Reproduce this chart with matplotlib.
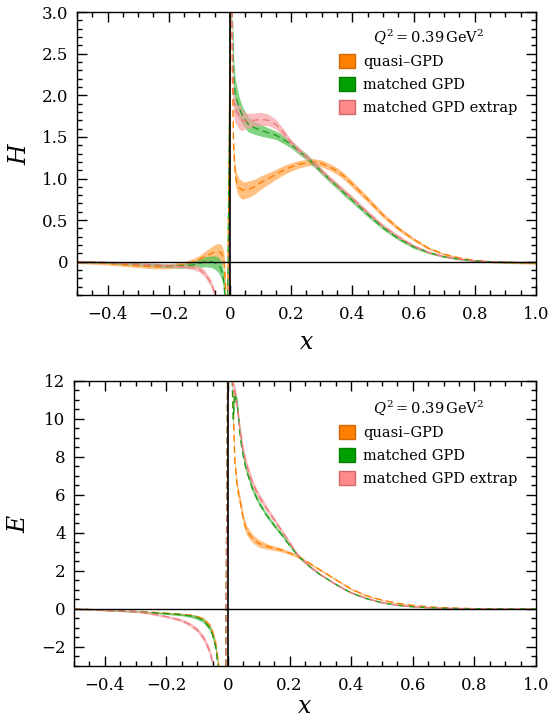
import numpy as np
import matplotlib
matplotlib.use("Agg")
import matplotlib.pyplot as plt
from matplotlib.patches import Patch
from matplotlib.ticker import MultipleLocator, FuncFormatter

plt.rcParams['font.family'] = ['DejaVu Serif']
plt.rcParams['mathtext.fontset'] = 'dejavuserif'

# --- data ---
x_grid = [-0.5, -0.45, -0.4, -0.35, -0.3, -0.25, -0.2, -0.15, -0.12, -0.1,
          -0.08, -0.06, -0.05, -0.04, -0.03, -0.025, -0.02, -0.015, -0.01,
          0.004, 0.008, 0.012, 0.017, 0.022, 0.03, 0.04, 0.05, 0.06, 0.08, 0.1,
          0.125, 0.15, 0.175, 0.2, 0.225, 0.25, 0.275, 0.3, 0.325, 0.35, 0.375, 0.4,
          0.45, 0.5, 0.55, 0.6, 0.65, 0.7, 0.75, 0.8, 0.85, 0.9, 0.95, 1.0]

# H : quasi-GPD
H_quasi = [0.0, -0.01, -0.02, -0.035, -0.05, -0.06, -0.055, -0.035, 0.0, 0.03,
           0.07, 0.1, 0.115, 0.12, 0.11, 0.08, 0.02, -0.25, -1.5,
           4.0, 2.2, 1.35, 1.05, 0.95, 0.89, 0.86, 0.86, 0.87, 0.9, 0.95,
           1.0, 1.05, 1.1, 1.14, 1.17, 1.19, 1.2, 1.18, 1.14, 1.09, 1.02, 0.93,
           0.75, 0.56, 0.40, 0.27, 0.16, 0.09, 0.045, 0.015, 0.0, -0.01, -0.015, -0.02]
H_quasi_err = [0.02, 0.02, 0.02, 0.02, 0.02, 0.025, 0.03, 0.035, 0.04, 0.045,
               0.06, 0.08, 0.09, 0.1, 0.1, 0.1, 0.1, 0.1, 0.1,
               0.05, 0.08, 0.1, 0.11, 0.11, 0.11, 0.11, 0.1, 0.1, 0.09, 0.08,
               0.07, 0.06, 0.055, 0.05, 0.045, 0.04, 0.04, 0.04, 0.04, 0.04, 0.04, 0.04,
               0.035, 0.03, 0.025, 0.02, 0.015, 0.01, 0.01, 0.01, 0.01, 0.01, 0.01, 0.01]
# H : matched GPD
H_match = [0.0, -0.005, -0.01, -0.02, -0.03, -0.04, -0.05, -0.05, -0.04, -0.02,
           0.0, 0.0, -0.01, -0.03, -0.08, -0.14, -0.25, -0.5, -1.5,
           4.0, 2.8, 2.25, 2.0, 1.95, 1.85, 1.76, 1.7, 1.65, 1.61, 1.58,
           1.55, 1.52, 1.47, 1.41, 1.33, 1.26, 1.17, 1.08, 0.99, 0.91, 0.82, 0.74,
           0.57, 0.41, 0.28, 0.18, 0.11, 0.06, 0.03, 0.01, 0.0, -0.005, -0.01, -0.01]
H_match_err = [0.01, 0.01, 0.01, 0.015, 0.015, 0.02, 0.02, 0.03, 0.04, 0.05,
               0.06, 0.07, 0.08, 0.09, 0.1, 0.1, 0.1, 0.1, 0.1,
               0.1, 0.15, 0.2, 0.2, 0.16, 0.13, 0.11, 0.1, 0.09, 0.08, 0.07,
               0.06, 0.05, 0.05, 0.045, 0.04, 0.04, 0.035, 0.035, 0.035, 0.035, 0.035, 0.035,
               0.03, 0.025, 0.02, 0.02, 0.015, 0.01, 0.01, 0.01, 0.01, 0.01, 0.01, 0.01]
# H : matched GPD extrap
H_extrap = [0.0, -0.005, -0.01, -0.02, -0.03, -0.04, -0.05, -0.06, -0.07, -0.09,
            -0.15, -0.27, -0.38, -0.52, -0.9, -1.3, -2.0, -3.0, -5.0,
            4.0, 2.6, 1.95, 1.83, 1.8, 1.74, 1.7, 1.69, 1.69, 1.7, 1.71,
            1.7, 1.65, 1.55, 1.43, 1.34, 1.26, 1.18, 1.09, 1.0, 0.92, 0.84, 0.76,
            0.59, 0.43, 0.30, 0.19, 0.11, 0.06, 0.03, 0.01, 0.0, -0.005, -0.01, -0.01]
H_extrap_err = [0.01, 0.01, 0.01, 0.015, 0.015, 0.02, 0.02, 0.025, 0.03, 0.035,
                0.04, 0.045, 0.05, 0.05, 0.05, 0.05, 0.05, 0.05, 0.05,
                0.1, 0.15, 0.15, 0.15, 0.15, 0.15, 0.13, 0.1, 0.09, 0.08, 0.08,
                0.07, 0.06, 0.05, 0.04, 0.035, 0.03, 0.03, 0.03, 0.03, 0.03, 0.03, 0.03,
                0.025, 0.02, 0.02, 0.015, 0.01, 0.01, 0.01, 0.01, 0.01, 0.01, 0.01, 0.01]

# E : quasi-GPD
E_quasi = [0.0, -0.03, -0.07, -0.1, -0.13, -0.17, -0.22, -0.28, -0.33, -0.4,
           -0.52, -0.85, -1.2, -1.8, -3.0, -3.8, -5.0, -7.0, -10.0,
           25.0, 18.0, 15.0, 10.5, 7.8, 6.4, 5.6, 4.7, 4.15, 3.7, 3.45,
           3.3, 3.2, 3.1, 2.95, 2.78, 2.55, 2.3, 2.05, 1.8, 1.55, 1.3, 1.05,
           0.7, 0.47, 0.3, 0.19, 0.12, 0.07, 0.04, 0.02, 0.01, 0.005, 0.0, 0.0]
E_quasi_err = [0.02, 0.02, 0.03, 0.03, 0.03, 0.04, 0.04, 0.05, 0.05, 0.06,
               0.08, 0.1, 0.12, 0.15, 0.2, 0.2, 0.2, 0.2, 0.2,
               0.5, 0.5, 0.4, 0.35, 0.3, 0.3, 0.3, 0.28, 0.25, 0.22, 0.2,
               0.15, 0.12, 0.1, 0.08, 0.07, 0.06, 0.06, 0.05, 0.05, 0.05, 0.05, 0.05,
               0.04, 0.03, 0.03, 0.02, 0.02, 0.02, 0.02, 0.01, 0.01, 0.01, 0.01, 0.01]
# E : matched GPD
E_match = [0.0, -0.03, -0.07, -0.1, -0.14, -0.19, -0.24, -0.3, -0.37, -0.45,
           -0.6, -0.98, -1.35, -2.0, -3.3, -4.2, -5.5, -7.5, -10.0,
           25.0, 18.0, 13.0, 10.0, 11.3, 10.8, 9.0, 8.0, 7.3, 6.3, 5.6,
           4.95, 4.4, 3.9, 3.35, 2.84, 2.45, 2.1, 1.8, 1.55, 1.3, 1.07, 0.85,
           0.55, 0.33, 0.2, 0.12, 0.07, 0.04, 0.02, 0.01, 0.005, 0.0, 0.0, 0.0]
E_match_err = [0.02, 0.02, 0.02, 0.03, 0.03, 0.04, 0.05, 0.06, 0.08, 0.1,
               0.12, 0.15, 0.2, 0.2, 0.2, 0.2, 0.2, 0.2, 0.2,
               0.5, 0.5, 0.5, 0.4, 0.35, 0.3, 0.25, 0.2, 0.18, 0.15, 0.13,
               0.12, 0.1, 0.1, 0.08, 0.07, 0.06, 0.05, 0.05, 0.04, 0.04, 0.04, 0.04,
               0.03, 0.02, 0.02, 0.02, 0.01, 0.01, 0.01, 0.01, 0.01, 0.01, 0.01, 0.01]
# E : matched GPD extrap
E_extrap = [0.0, -0.03, -0.07, -0.1, -0.14, -0.25, -0.4, -0.6, -0.85, -1.1,
            -1.5, -2.2, -2.8, -3.6, -5.0, -6.0, -7.5, -9.0, -12.0,
            25.0, 18.0, 13.0, 11.5, 11.5, 10.6, 9.3, 8.3, 7.6, 6.6, 5.95,
            5.3, 4.7, 4.1, 3.5, 2.88, 2.47, 2.12, 1.82, 1.55, 1.3, 1.07, 0.86,
            0.56, 0.34, 0.2, 0.12, 0.07, 0.04, 0.02, 0.01, 0.005, 0.0, 0.0, 0.0]
E_extrap_err = [0.02, 0.02, 0.03, 0.03, 0.04, 0.05, 0.06, 0.08, 0.1, 0.12,
                0.15, 0.2, 0.2, 0.2, 0.2, 0.2, 0.2, 0.2, 0.2,
                0.5, 0.5, 0.5, 0.4, 0.35, 0.3, 0.3, 0.25, 0.22, 0.2, 0.18,
                0.15, 0.13, 0.11, 0.09, 0.07, 0.06, 0.05, 0.05, 0.04, 0.04, 0.04, 0.04,
                0.03, 0.02, 0.02, 0.02, 0.01, 0.01, 0.01, 0.01, 0.01, 0.01, 0.01, 0.01]

labels = ["quasi\u2013GPD", "matched GPD", "matched GPD extrap"]
line_cols = ["#ff8000", "#1fa01f", "#f07a80"]
band_cols = ["#ffa64d", "#4cc04c", "#f7a0a4"]
patch_cols = ["#ff8000", "#00a000", "#ff8a8a"]
edge_cols = ["#d06a00", "#008000", "#d06a6a"]


def fmt_dec(v, pos):
    if abs(v) < 1e-9:
        return "0"
    return f"{v:.1f}".replace("-", "\u2212")


def fmt_int(v, pos):
    if abs(v) < 1e-9:
        return "0"
    return f"{v:.0f}".replace("-", "\u2212")


def draw_panel(ax, series, errs, ylim, ymaj, ymin, yfmt, ylabel, leg_anchor, xpad):
    x = np.array(x_grid)
    for y, e, lc, bc in zip(series, errs, line_cols, band_cols):
        y = np.array(y)
        e = np.array(e)
        ax.fill_between(x, y - e, y + e, color=bc, alpha=0.7, lw=0)
        ax.plot(x, y, ls=(0, (5, 3)), color=lc, lw=1.0)
    ax.axhline(0, color="black", lw=1.0, zorder=5)
    ax.axvline(0, color="black", lw=1.2, zorder=5)
    ax.set_xlim(-0.5, 1.0)
    ax.set_ylim(*ylim)
    ax.xaxis.set_major_locator(MultipleLocator(0.2))
    ax.xaxis.set_minor_locator(MultipleLocator(0.05))
    ax.yaxis.set_major_locator(MultipleLocator(ymaj))
    ax.yaxis.set_minor_locator(MultipleLocator(ymin))
    ax.xaxis.set_major_formatter(FuncFormatter(fmt_dec))
    ax.yaxis.set_major_formatter(FuncFormatter(yfmt))
    ax.tick_params(which="both", direction="in", top=True, right=True,
                   labelsize=12, width=1.0)
    ax.tick_params(which="major", length=7)
    ax.tick_params(which="minor", length=3.5)
    ax.tick_params(axis="x", which="major", pad=8)
    ax.tick_params(axis="y", which="major", pad=6)
    for sp in ax.spines.values():
        sp.set_linewidth(1.0)
    ax.set_xlabel("$x$", fontsize=17, labelpad=xpad)
    ax.set_ylabel(ylabel, fontsize=17, labelpad=8)
    handles = [Patch(facecolor=pc, edgecolor=ec, lw=1.0) for pc, ec in zip(patch_cols, edge_cols)]
    ax.legend(handles, labels, loc="upper left", bbox_to_anchor=leg_anchor,
              frameon=False, fontsize=10.5, handlelength=1.1, handleheight=1.1,
              handletextpad=0.55, labelspacing=0.55, borderpad=0, borderaxespad=0,
              title=r"$Q^2 = 0.39\,\mathrm{GeV}^2$", title_fontsize=10.5)


fig = plt.figure(figsize=(5.5, 7.21), dpi=100)
ax1 = fig.add_axes([0.14, 0.5908, 0.8345, 0.3925])
ax2 = fig.add_axes([0.1345, 0.0763, 0.84, 0.3953])

draw_panel(ax1, [H_quasi, H_match, H_extrap], [H_quasi_err, H_match_err, H_extrap_err],
           (-0.4, 3.0), 0.5, 0.1, fmt_dec, "$H$", (0.571, 0.945), 6)
draw_panel(ax2, [E_quasi, E_match, E_extrap], [E_quasi_err, E_match_err, E_extrap_err],
           (-3, 12), 2, 0.5, fmt_int, "$E$", (0.5736, 0.94), 1)

fig.savefig("out.png", dpi=100)
